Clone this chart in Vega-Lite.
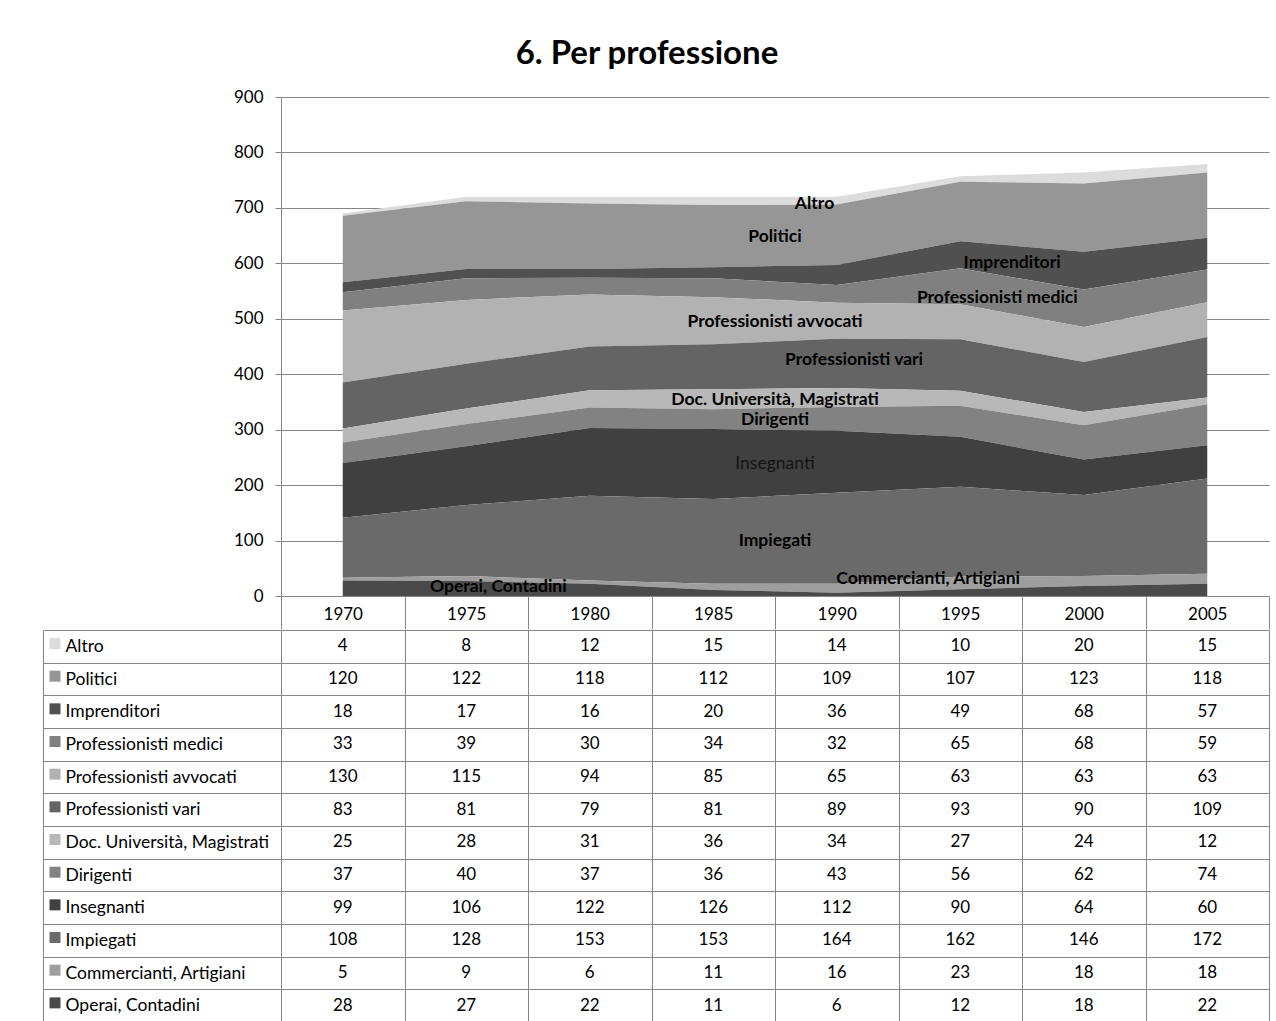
{
  "$schema": "https://vega.github.io/schema/vega-lite/v6.json",
  "background": "white",
  "padding": {"left": 42, "top": 38, "right": 8, "bottom": 0},
  "spacing": -10,
  "config": {
    "font": "Lato",
    "view": {"stroke": null},
    "axis": {"labelFont": "Lato", "labelColor": "#000000", "labelFontSize": 17}
  },
  "datasets": {
    "d": [
      {"s": "Altro", "k": 12, "year": 1970, "v": 4}, {"s": "Altro", "k": 12, "year": 1975, "v": 8}, {"s": "Altro", "k": 12, "year": 1980, "v": 12}, {"s": "Altro", "k": 12, "year": 1985, "v": 15}, {"s": "Altro", "k": 12, "year": 1990, "v": 14}, {"s": "Altro", "k": 12, "year": 1995, "v": 10}, {"s": "Altro", "k": 12, "year": 2000, "v": 20}, {"s": "Altro", "k": 12, "year": 2005, "v": 15},
      {"s": "Politici", "k": 11, "year": 1970, "v": 120}, {"s": "Politici", "k": 11, "year": 1975, "v": 122}, {"s": "Politici", "k": 11, "year": 1980, "v": 118}, {"s": "Politici", "k": 11, "year": 1985, "v": 112}, {"s": "Politici", "k": 11, "year": 1990, "v": 109}, {"s": "Politici", "k": 11, "year": 1995, "v": 107}, {"s": "Politici", "k": 11, "year": 2000, "v": 123}, {"s": "Politici", "k": 11, "year": 2005, "v": 118},
      {"s": "Imprenditori", "k": 10, "year": 1970, "v": 18}, {"s": "Imprenditori", "k": 10, "year": 1975, "v": 17}, {"s": "Imprenditori", "k": 10, "year": 1980, "v": 16}, {"s": "Imprenditori", "k": 10, "year": 1985, "v": 20}, {"s": "Imprenditori", "k": 10, "year": 1990, "v": 36}, {"s": "Imprenditori", "k": 10, "year": 1995, "v": 49}, {"s": "Imprenditori", "k": 10, "year": 2000, "v": 68}, {"s": "Imprenditori", "k": 10, "year": 2005, "v": 57},
      {"s": "Professionisti medici", "k": 9, "year": 1970, "v": 33}, {"s": "Professionisti medici", "k": 9, "year": 1975, "v": 39}, {"s": "Professionisti medici", "k": 9, "year": 1980, "v": 30}, {"s": "Professionisti medici", "k": 9, "year": 1985, "v": 34}, {"s": "Professionisti medici", "k": 9, "year": 1990, "v": 32}, {"s": "Professionisti medici", "k": 9, "year": 1995, "v": 65}, {"s": "Professionisti medici", "k": 9, "year": 2000, "v": 68}, {"s": "Professionisti medici", "k": 9, "year": 2005, "v": 59},
      {"s": "Professionisti avvocati", "k": 8, "year": 1970, "v": 130}, {"s": "Professionisti avvocati", "k": 8, "year": 1975, "v": 115}, {"s": "Professionisti avvocati", "k": 8, "year": 1980, "v": 94}, {"s": "Professionisti avvocati", "k": 8, "year": 1985, "v": 85}, {"s": "Professionisti avvocati", "k": 8, "year": 1990, "v": 65}, {"s": "Professionisti avvocati", "k": 8, "year": 1995, "v": 63}, {"s": "Professionisti avvocati", "k": 8, "year": 2000, "v": 63}, {"s": "Professionisti avvocati", "k": 8, "year": 2005, "v": 63},
      {"s": "Professionisti vari", "k": 7, "year": 1970, "v": 83}, {"s": "Professionisti vari", "k": 7, "year": 1975, "v": 81}, {"s": "Professionisti vari", "k": 7, "year": 1980, "v": 79}, {"s": "Professionisti vari", "k": 7, "year": 1985, "v": 81}, {"s": "Professionisti vari", "k": 7, "year": 1990, "v": 89}, {"s": "Professionisti vari", "k": 7, "year": 1995, "v": 93}, {"s": "Professionisti vari", "k": 7, "year": 2000, "v": 90}, {"s": "Professionisti vari", "k": 7, "year": 2005, "v": 109},
      {"s": "Doc. Università,  Magistrati", "k": 6, "year": 1970, "v": 25}, {"s": "Doc. Università,  Magistrati", "k": 6, "year": 1975, "v": 28}, {"s": "Doc. Università,  Magistrati", "k": 6, "year": 1980, "v": 31}, {"s": "Doc. Università,  Magistrati", "k": 6, "year": 1985, "v": 36}, {"s": "Doc. Università,  Magistrati", "k": 6, "year": 1990, "v": 34}, {"s": "Doc. Università,  Magistrati", "k": 6, "year": 1995, "v": 27}, {"s": "Doc. Università,  Magistrati", "k": 6, "year": 2000, "v": 24}, {"s": "Doc. Università,  Magistrati", "k": 6, "year": 2005, "v": 12},
      {"s": "Dirigenti", "k": 5, "year": 1970, "v": 37}, {"s": "Dirigenti", "k": 5, "year": 1975, "v": 40}, {"s": "Dirigenti", "k": 5, "year": 1980, "v": 37}, {"s": "Dirigenti", "k": 5, "year": 1985, "v": 36}, {"s": "Dirigenti", "k": 5, "year": 1990, "v": 43}, {"s": "Dirigenti", "k": 5, "year": 1995, "v": 56}, {"s": "Dirigenti", "k": 5, "year": 2000, "v": 62}, {"s": "Dirigenti", "k": 5, "year": 2005, "v": 74},
      {"s": "Insegnanti", "k": 4, "year": 1970, "v": 99}, {"s": "Insegnanti", "k": 4, "year": 1975, "v": 106}, {"s": "Insegnanti", "k": 4, "year": 1980, "v": 122}, {"s": "Insegnanti", "k": 4, "year": 1985, "v": 126}, {"s": "Insegnanti", "k": 4, "year": 1990, "v": 112}, {"s": "Insegnanti", "k": 4, "year": 1995, "v": 90}, {"s": "Insegnanti", "k": 4, "year": 2000, "v": 64}, {"s": "Insegnanti", "k": 4, "year": 2005, "v": 60},
      {"s": "Impiegati", "k": 3, "year": 1970, "v": 108}, {"s": "Impiegati", "k": 3, "year": 1975, "v": 128}, {"s": "Impiegati", "k": 3, "year": 1980, "v": 153}, {"s": "Impiegati", "k": 3, "year": 1985, "v": 153}, {"s": "Impiegati", "k": 3, "year": 1990, "v": 164}, {"s": "Impiegati", "k": 3, "year": 1995, "v": 162}, {"s": "Impiegati", "k": 3, "year": 2000, "v": 146}, {"s": "Impiegati", "k": 3, "year": 2005, "v": 172},
      {"s": "Commercianti, Artigiani", "k": 2, "year": 1970, "v": 5}, {"s": "Commercianti, Artigiani", "k": 2, "year": 1975, "v": 9}, {"s": "Commercianti, Artigiani", "k": 2, "year": 1980, "v": 6}, {"s": "Commercianti, Artigiani", "k": 2, "year": 1985, "v": 11}, {"s": "Commercianti, Artigiani", "k": 2, "year": 1990, "v": 16}, {"s": "Commercianti, Artigiani", "k": 2, "year": 1995, "v": 23}, {"s": "Commercianti, Artigiani", "k": 2, "year": 2000, "v": 18}, {"s": "Commercianti, Artigiani", "k": 2, "year": 2005, "v": 18},
      {"s": "Operai, Contadini", "k": 1, "year": 1970, "v": 28}, {"s": "Operai, Contadini", "k": 1, "year": 1975, "v": 27}, {"s": "Operai, Contadini", "k": 1, "year": 1980, "v": 22}, {"s": "Operai, Contadini", "k": 1, "year": 1985, "v": 11}, {"s": "Operai, Contadini", "k": 1, "year": 1990, "v": 6}, {"s": "Operai, Contadini", "k": 1, "year": 1995, "v": 12}, {"s": "Operai, Contadini", "k": 1, "year": 2000, "v": 18}, {"s": "Operai, Contadini", "k": 1, "year": 2005, "v": 22}
    ],
    "lab": [
      {"t": "Altro", "lx": 1989.1, "ly": 707},
      {"t": "Politici", "lx": 1987.5, "ly": 647.5},
      {"t": "Imprenditori", "lx": 1997.1, "ly": 600.6},
      {"t": "Professionisti medici", "lx": 1996.5, "ly": 537.5},
      {"t": "Professionisti avvocati", "lx": 1987.5, "ly": 494},
      {"t": "Professionisti vari", "lx": 1990.7, "ly": 425.7},
      {"t": "Doc. Università, Magistrati", "lx": 1987.5, "ly": 353.5},
      {"t": "Dirigenti", "lx": 1987.5, "ly": 317.5},
      {"t": "Insegnanti", "lx": 1987.5, "ly": 238},
      {"t": "Impiegati", "lx": 1987.5, "ly": 99.2},
      {"t": "Commercianti, Artigiani", "lx": 1993.7, "ly": 30.7},
      {"t": "Operai, Contadini", "lx": 1976.3, "ly": 16.2}
    ]
  },
  "vconcat": [
    {
      "width": 988,
      "height": 499,
      "title": {"text": "6. Per professione", "fontSize": 33, "font": "Lato", "fontWeight": "bold", "color": "#000000", "anchor": "middle", "dx": -128, "offset": -9, "baseline": "alphabetic"},
      "layer": [
        {
          "data": {"name": "d"},
          "mark": {"type": "area"},
          "encoding": {
            "x": {"field": "year", "type": "quantitative",
              "scale": {"domain": [1967.5, 2007.5], "nice": false, "zero": false},
              "axis": {"title": null, "values": [1967.5, 1972.5, 1977.5, 1982.5, 1987.5, 1992.5, 1997.5, 2002.5, 2007.5],
                "tickSize": 33, "tickColor": "#868686", "domainColor": "#868686", "grid": false,
                "labelExpr": "datum.value > 2006 ? '' : '' + (datum.value + 2.5)",
                "labelOffset": 61.75, "labelPadding": -15, "labelBaseline": "middle", "labelFlush": false, "labelOverlap": false, "labelAngle": 0}},
            "y": {"field": "v", "type": "quantitative", "stack": "zero",
              "scale": {"domain": [0, 900], "nice": false},
              "axis": {"title": null, "values": [0, 100, 200, 300, 400, 500, 600, 700, 800, 900], "tickSize": 6, "tickColor": "#868686", "domainColor": "#868686", "grid": true, "gridColor": "#868686", "labelPadding": 12, "labelFlush": false}},
            "color": {"field": "s", "type": "nominal",
              "scale": {
                "domain": ["Altro", "Politici", "Imprenditori", "Professionisti medici", "Professionisti avvocati", "Professionisti vari", "Doc. Università,  Magistrati", "Dirigenti", "Insegnanti", "Impiegati", "Commercianti, Artigiani", "Operai, Contadini"],
                "range": ["#dcdcdc", "#969696", "#505050", "#808080", "#b2b2b2", "#646464", "#b8b8b8", "#828282", "#404040", "#6a6a6a", "#9e9e9e", "#4a4a4a"]},
              "legend": {"orient": "none", "legendX": -231.5, "legendY": 541, "title": null, "symbolType": "square", "symbolSize": 121, "symbolStrokeWidth": 0, "labelExpr": "''", "labelFontSize": 1, "rowPadding": 21.67, "padding": 0, "symbolOffset": 0}},
            "order": {"field": "k", "type": "quantitative"}
          }
        },
        {
          "data": {"name": "lab"},
          "transform": [{"filter": "datum.t !== 'Insegnanti'"}],
          "mark": {"type": "text", "fontWeight": "bold", "fontSize": 17.5, "font": "Lato", "color": "#000000"},
          "encoding": {
            "x": {"field": "lx", "type": "quantitative", "scale": {"domain": [1967.5, 2007.5], "nice": false, "zero": false}},
            "y": {"field": "ly", "type": "quantitative", "scale": {"domain": [0, 900], "nice": false}},
            "text": {"field": "t"}
          }
        },
        {
          "data": {"name": "lab"},
          "transform": [{"filter": "datum.t === 'Insegnanti'"}],
          "mark": {"type": "text", "fontWeight": "normal", "fontSize": 17.5, "font": "Lato", "color": "#141414"},
          "encoding": {
            "x": {"field": "lx", "type": "quantitative", "scale": {"domain": [1967.5, 2007.5], "nice": false, "zero": false}},
            "y": {"field": "ly", "type": "quantitative", "scale": {"domain": [0, 900], "nice": false}},
            "text": {"field": "t"}
          }
        }
      ]
    },
    {
      "width": 988,
      "height": 392,
      "data": {"name": "d"},
      "mark": {"type": "text", "fontSize": 17, "font": "Lato", "color": "#000000"},
      "encoding": {
        "x": {"field": "year", "type": "ordinal",
          "scale": {"type": "band", "paddingInner": 0, "paddingOuter": 0},
          "axis": {"title": null, "orient": "bottom", "labels": false, "ticks": false, "domain": false, "grid": true, "tickBand": "extent", "gridColor": "#868686"}},
        "y": {"field": "s", "type": "nominal",
          "sort": ["Altro", "Politici", "Imprenditori", "Professionisti medici", "Professionisti avvocati", "Professionisti vari", "Doc. Università,  Magistrati", "Dirigenti", "Insegnanti", "Impiegati", "Commercianti, Artigiani", "Operai, Contadini"],
          "scale": {"type": "band", "paddingInner": 0, "paddingOuter": 0},
          "axis": {"title": null, "offset": 238, "tickSize": -238, "tickBand": "extent", "grid": true, "gridColor": "#868686", "tickColor": "#868686", "domainColor": "#868686", "labelAlign": "left", "labelPadding": 216, "labelFontSize": 17.5, "labelLimit": 0}},
        "text": {"field": "v", "type": "quantitative"}
      }
    }
  ]
}
